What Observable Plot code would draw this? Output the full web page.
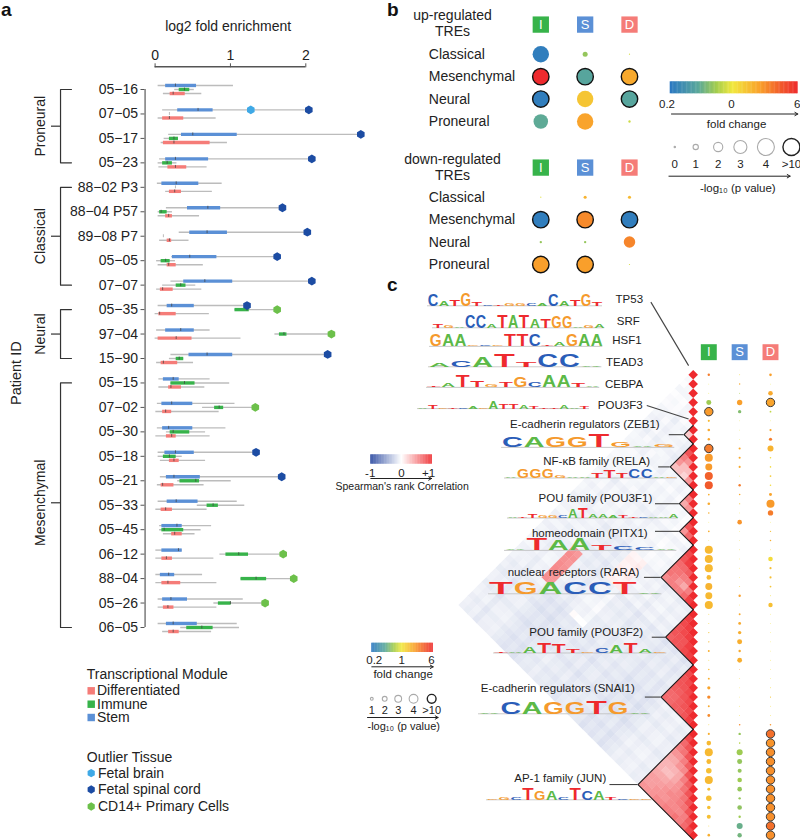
<!DOCTYPE html>
<html>
<head>
<meta charset="utf-8">
<script src="https://cdn.jsdelivr.net/npm/d3@7"></script>
<script src="https://cdn.jsdelivr.net/npm/@observablehq/plot@0.6"></script>
<style>
html,body{margin:0;padding:0;background:#fff;font-family:"Liberation Sans",Arial,sans-serif}
#root{position:relative;width:800px;height:840px;overflow:hidden}
.tag{position:absolute;font-weight:bold;font-size:19px;color:#111;line-height:1}
</style>
</head>
<body>
<div id="root"></div>
<script>
// ---------- panel a ----------
const patients = ["05−16","07−05","05−17","05−23","88−02 P3","88−04 P57","89−08 P7","05−05","07−07","05−35","97−04","15−90","05−15","07−02","05−30","05−18","05−21","05−33","05−45","06−12","88−04","05−26","06−05"];
const subtypeGroups = [
  {name:"Proneural", from:0, to:3, mid:1.5},
  {name:"Classical", from:4, to:8, mid:6},
  {name:"Neural", from:9, to:11, mid:10},
  {name:"Mesenchymal", from:12, to:22, mid:16.9}
];
// [low whisker, q1, median, q3, high whisker], log2 fold enrichment
const stemBoxes = [[.04,.14,.27,.55,1.04],[.10,.30,.57,.77,2.04],[.18,.35,.50,1.09,2.73],[.06,.14,.27,.71,2.08],[.03,.09,.28,.58,.89],[.15,.43,.70,.87,1.69],[.32,.46,.69,.96,2.02],[.22,.23,.46,.82,1.62],[.21,.38,.66,1.03,2.08],[.04,.16,.22,.52,1.22],[.02,.14,.34,.52,.73],[.21,.45,.69,1.03,2.29],[.05,.11,.24,.32,.73],[.03,.09,.22,.50,1.06],[.03,.10,.18,.50,.94],[.04,.13,.27,.52,1.34],[.07,.15,.25,.60,1.68],[.04,.16,.28,.57,1.09],[.06,.09,.29,.36,.75],[.01,.09,.31,.36,.36],[.01,.07,.18,.26,.63],[.04,.10,.21,.43,1.17],[.04,.15,.24,.56,1.09]];
const immuneBoxes = [[.26,.32,.39,.46,.52],null,[.12,.19,.25,.31,.31],[.04,.10,.16,.23,.29],null,[.04,.06,.08,.16,.23],null,[.02,.08,.14,.20,.27],[.10,.28,.34,.41,.54],[1.06,1.06,1.22,1.25,1.62],[1.59,1.65,1.71,1.75,2.34],[.19,.28,.32,.38,.38],[.21,.21,.39,.53,.99],[.63,.79,.85,.91,1.33],[.15,.20,.24,.46,.67],[.04,.11,.19,.28,.36],[.30,.33,.54,.59,1.01],[.56,.69,.77,.84,1.19],[.06,.09,.12,.38,.61],[.86,.94,1.11,1.24,1.70],[1.14,1.14,1.34,1.48,1.84],[.78,.84,1.00,1.01,1.46],[.34,.42,.62,.77,1.12]];
const diffBoxes = [[.11,.20,.24,.40,.62],[.04,.10,.19,.38,.81],[.08,.11,.25,.73,.96],[.05,.17,.27,.42,.69],[.14,.19,.26,.35,.76],[.04,.14,.18,.23,.59],[.06,.16,.19,.22,.45],[.04,.16,.18,.28,.64],[.02,.07,.10,.24,.62],[.00,.05,.06,.28,.72],[.00,.04,.28,.49,1.14],[.02,.08,.11,.30,.51],[.05,.18,.21,.35,.66],[.01,.10,.14,.22,.85],[.01,.15,.22,.28,.73],[.07,.19,.25,.32,.67],[.03,.08,.10,.25,.65],[.01,.08,.14,.23,.69],[.11,.22,.26,.36,.53],[.01,.09,.15,.23,.78],[.01,.09,.17,.34,.82],[.04,.11,.17,.25,.82],[.10,.18,.24,.32,.75]];
// rows whose immune module is only a stray median mark
const immuneStray = [[1,.19],[4,.27],[6,.11]];
const outliers = [[1,"S",1.27,"brain"],[1,"S",2.04,"spinal"],[2,"S",2.73,"spinal"],[3,"S",2.08,"spinal"],[5,"S",1.69,"spinal"],[6,"S",2.02,"spinal"],[7,"S",1.62,"spinal"],[8,"S",2.08,"spinal"],[9,"S",1.22,"spinal"],[9,"I",1.62,"cd14"],[10,"I",2.34,"cd14"],[11,"S",2.29,"spinal"],[13,"I",1.33,"cd14"],[15,"S",1.34,"spinal"],[16,"S",1.68,"spinal"],[19,"I",1.70,"cd14"],[20,"I",1.84,"cd14"],[21,"I",1.46,"cd14"]];
const moduleColor = {S:"#5b90d6", I:"#37b34a", D:"#f57c78"};
const moduleOffset = {S:-0.165, I:0, D:0.165};
const tissueColor = {brain:"#3fa9e6", spinal:"#1c4ca3", cd14:"#6cc04a"};

// ---------- panel b ----------
const subtypes = ["Classical","Mesenchymal","Neural","Proneural"];
const modules = ["I","S","D"];
const upP    = [[4,1,0],[11,11,11],[11,4,11],[3.5,4,.3]];
const upFold = [[.22,.62,.9],[6,.4,2],[.22,1.5,.4],[.43,2.1,.85]];
const downP    = [[0,.5,.5],[11,11,11],[.3,.3,2.7],[11,11,0]];
const downFold = [[.95,1.8,1.7],[.22,2.6,.22],[.62,.62,2.7],[2.2,2.2,.9]];

// ---------- panel c ----------
const pI = [.85,0,0,2.2,11,.7,.95,.85,11,3.8,3.25,3.8,3.8,.5,.95,.4,0,.5,0,3.8,3.8,3.8,2,3.25,3.25,3.8,.1,.1,.2,.3,.6,.1,.3,.6,1.25,1.35,.6,1.05,.1,.7,2,3.8,2.1,2.5,3.8,1.15,2.5,1.45,1.7,.1,.95];
const fI = [2.9,1,1,.66,2.3,1.7,2,2.1,2.9,2.3,2.3,3.6,3.8,1.9,2,1.9,1.1,1.9,1.1,1.7,1.7,1.7,1.7,1.8,1.7,1.7,1.3,1.3,1.5,1.7,1.9,1.2,1.7,1.9,2.1,2.6,2,2.6,1.3,1.9,1.7,1.7,1.7,1.6,1.7,1.6,1.6,1.6,1.6,1.3,1.9];
const pS = [.1,.3,.1,2.4,1.35,0,0,0,.7,.7,.7,0,.85,.4,.2,0,2,0,0,0,0,0,0,.1,.85,0,.6,1.05,1.35,2.2,.85,2.1,0,0,0,0,0,0,.4,.85,.4,2.75,2.2,1.7,2,2,.85,2,.85,2.75,1.9];
const fS = [1.2,2,.7,2.2,.55,1,1,1,2,2,2,1.1,2.9,2,1.5,1.1,2.4,1.2,1.2,1.2,1.2,1.2,1.2,1.4,2.2,1.2,2,2,1.9,1.9,2,1.9,2.5,1.3,1.2,1.2,1.2,1.2,2.6,.62,.75,.66,.62,.62,.66,.62,.62,.6,.66,.46,.5];
const pD = [.95,0,2,11,.5,0,.7,1.25,2.75,.4,.4,.5,.4,1.15,3.8,2.4,0,.3,.4,0,2,.7,.7,.5,.1,1.9,0,0,0,0,0,0,0,0,.1,.2,0,0,.4,11,11,11,11,11,11,11,11,11,11,11,11];
const fD = [2.2,1,2,2.1,.8,1,2,2.9,1.8,1.2,1.2,1.4,1.2,2.1,2.3,2.9,1.1,1.6,1.9,1.2,1.2,1.6,1.6,1.5,1.2,1.6,1.1,1.1,1.1,1.1,1.1,1.1,1.1,1.1,1.2,1.5,1.2,1.2,2.4,3.2,2.4,2.5,2.5,2.5,2.5,2.5,2.5,2.5,2.5,3.2,2.5];

// motif clusters: first and last row in the matrix
const clusters = [[0,0],[1,1],[2,2],[3,3],[4,4],[5,5],[6,7],[8,12],[13,15],[16,18],[19,25],[26,31],[32,38],[39,50]];
// Spearman correlation between clusters (upper triangle, by cluster)
const clusterCorr = [
 [0,-.06,-.05,-.06,-.05,-.06,-.05,-.08,-.06,-.06,-.07,-.08,-.08,-.10],
 [0,0,-.07,-.05,-.05,-.06,-.05,-.09,-.06,-.05,-.08,-.07,-.08,-.11],
 [0,0,0,-.06,-.05,-.05,-.05,-.06,-.07,-.06,-.07,-.08,-.09,-.10],
 [0,0,0,0,-.07,-.05,-.07,-.07,-.06,-.05,-.08,-.07,-.09,-.12],
 [0,0,0,0,0,-.06,-.05,-.08,-.05,-.06,-.07,-.09,-.08,-.11],
 [0,0,0,0,0,0,-.06,-.06,-.07,-.05,-.08,-.07,-.08,-.10],
 [0,0,0,0,0,0,0,-.07,-.06,-.06,-.06,-.08,.52,-.09],
 [0,0,0,0,0,0,0,0,-.05,-.06,-.07,-.10,-.09,-.14],
 [0,0,0,0,0,0,0,0,0,-.04,-.05,.07,-.06,-.11],
 [0,0,0,0,0,0,0,0,0,0,-.05,-.07,-.10,-.12],
 [0,0,0,0,0,0,0,0,0,0,0,-.08,-.11,-.12],
 [0,0,0,0,0,0,0,0,0,0,0,0,-.12,-.14],
 [0,0,0,0,0,0,0,0,0,0,0,0,0,-.09],
 [0,0,0,0,0,0,0,0,0,0,0,0,0,0]
];
// within-cluster correlations, row by row from the diagonal outwards
const withinCorr = {
 6:[[.25]],
 7:[[.8,.6,.5,.3],[.5,.3,.3],[.3,.2],[.5]],
 8:[[.6,.4],[.5]],
 9:[[.8,.5],[.7]],
 10:[[.85,.8,.7,.65,.65,.55],[.9,.7,.65,.6,.6],[.75,.6,.5,.6],[.6,.4,.6],[.6,.7],[.9]],
 11:[[.9,.85,.8,.8,.75],[.9,.85,.8,.8],[.9,.8,.8],[.9,.85],[.9]],
 12:[[.85,.8,.8,.75,.7,.7],[.85,.8,.75,.7,.7],[.85,.8,.75,.75],[.85,.8,.75],[.85,.8],[.9]],
 13:[[.85,.7,.6,.5,.4,.35,.35,.4,.45,.45,.5],[.8,.65,.5,.4,.35,.3,.4,.45,.45,.5],[.8,.6,.5,.35,.3,.4,.45,.5,.5],[.75,.55,.4,.4,.45,.5,.5,.55],[.8,.6,.5,.5,.55,.5,.55],[.75,.65,.55,.55,.55,.6],[.8,.65,.6,.55,.6],[.8,.65,.55,.65],[.8,.6,.6],[.75,.7],[.85]]
};
// rows that read slightly paler (+) or bluer (-) than their block
const rowShade = [.02,.01,.02,-.01,.02,.01,.01,-.02,.01,-.01,.01,-.02,.01,0,-.01,.02,0,.01,-.01,.02,-.02,.01,.02,-.01,.01,0,-.02,.01,-.01,.02,-.02,.01,-.02,.01,-.01,.01,.02,-.01,0,.02,-.01,.01,-.02,.01,.01,-.02,.01,.02,-.01,.01,0];
const cellOverrides = [[14,39,.0],[13,39,.02],[15,39,.0]];

const motifLabels = [
 ["TP53",10.9,-8.2],["SRF",11.6,-5.8],["HSF1",11.2,-3.7],["TEAD3",10.9,-1.4],["CEBPA",10.9,1],["POU3F3",11,3.3],
 ["E-cadherin regulators (ZEB1)",7.3,5.4],["NF-κB family (RELA)",9.4,9.4],["POU family (POU3F1)",8.9,13.4],["homeodomain (PITX1)",9.9,17.2],
 ["nuclear receptors (RARA)",11.7,21.5],["POU family (POU3F2)",10.9,28],["E-cadherin regulators (SNAI1)",12.7,34],["AP-1 family (JUN)",18.9,43.8]
];
// cluster index with its leader's far end, as lag in the matrix
const leaders = [[6,5.2],[7,7.5],[8,8.2],[9,8.2],[10,10.6],[11,8.9],[12,10.4],[13,18.1]];
const slantedLeaders = [[9.2,-7.9,1,-1],[10.1,3.34,1,4.8]];

// sequence logos: letters and information content (bits)
const logoLetters = {
 TP53:"CATGTCTGGCACATGT", SRF:"TGACCATATATGGAGA", HSF1:"GAAGCGTTCTAGAA", TEAD3:"ACATTCCA", CEBPA:"TATTGTGCAATA",
 POU3F3:"ATGTCAGATTATTTAAT", ZEB1:"CAGGTGAG", RELA:"AGGGGAATTTCCAG", POU3F1:"ATTGGCATAAATTCAAA", PITX1:"ATAATCCA",
 RARA:"TGACCTA", POU3F2:"TAATTTGCATAG", SNAI1:"ACAGGTGA", JUN:"GGCTGACTCATCGG"
};
const logoBits = {
 TP53:[1.7,.7,1,1.9,.6,.2,.15,.3,.4,.3,.3,1.8,.7,1,1.7,.6],
 SRF:[.5,.35,.15,1.9,1.9,.5,1.9,1.9,1.9,1.4,1.4,1.8,1.8,.15,.3,.5],
 HSF1:[1.9,1.9,1.9,.15,.2,.15,1.9,1.9,1.9,.3,.6,1.9,1.9,1.9],
 TEAD3:[.6,.9,1.6,1.9,.7,1.9,1.9,.15],
 CEBPA:[.15,.6,1.9,1,.3,.8,1.6,.7,1.9,1.9,.6,.2],
 POU3F3:[.3,1.1,.2,.3,.2,.7,.3,1.9,1.3,1.2,.9,.5,.2,.2,.9,.3,.5],
 ZEB1:[1.7,1.7,1.7,1.7,2,.8,.15,.4],
 RELA:[.15,1.8,1.8,1.8,.5,.3,.15,.9,1.4,.9,1.8,1.8,.15,.15],
 POU3F1:[.2,.2,.6,.5,.5,.5,1.6,1.9,.7,.6,.5,.4,.3,.15,.15,.15,.7],
 PITX1:[.15,1.9,1.8,2,.8,.6,.4,.15],
 RARA:[2,1.9,1.9,1.9,1.9,1.9,.15],
 POU3F2:[.15,.15,1.2,1.9,1.5,.6,.3,1,1.4,1.8,.7,.2],
 SNAI1:[.15,1.8,1.8,1.7,1.7,1.9,1.7,.15],
 JUN:[.15,.4,.3,1.9,1.5,1.5,.5,1.9,1.5,1.6,.3,.15,.15,.15]
};
const letterColor = {A:"#5cb947", C:"#2a5db8", G:"#f59a2d", T:"#ee2a2e"};
const letterWidth = {A:7.22, C:7.22, G:7.78, T:6.11};

// ---------- colour scales ----------
const foldDomain = [.2,.42,.68,1.05,2.17,3.8,6];
const foldRange = ["#2b78c2","#5aa89a","#a3cd4d","#f2e83d","#f9a12b","#f15a2b","#ee2a2e"];
const foldColor = {type:"log", domain:foldDomain, range:foldRange};
const corrColor = {type:"linear", domain:[-1,0,1], range:["#27469f","#ffffff","#ee2a2e"]};

// ---------- helpers ----------
const root = document.getElementById("root");
const baseStyle = {background:"transparent", fontFamily:'"Liberation Sans",Arial,sans-serif', overflow:"visible", color:"#222"};
const modIdx = m=>modules.indexOf(m);
function place(node,left,top){node.style.position="absolute";node.style.left=left+"px";node.style.top=top+"px";node.style.maxWidth="none";root.append(node);return node;}
function tag(t,left,top){const d=document.createElement("div");d.className="tag";d.textContent=t;d.style.left=left+"px";d.style.top=top+"px";root.append(d);}

// ---------- panel a drawing ----------
function boxRows(boxes,mod){
  return boxes.flatMap((b,i)=>b?[{row:i+moduleOffset[mod],mod,lo:b[0],q1:b[1],med:b[2],q3:b[3],hi:b[4]}]:[]);
}
const boxData = [...boxRows(stemBoxes,"S"),...boxRows(immuneBoxes,"I"),...boxRows(diffBoxes,"D")];
const outlierData = outliers.map(([r,m,v,t])=>({row:r+moduleOffset[m],v,t}));
const tickH = 0.06;
const bracketPts = subtypeGroups.flatMap(g=>[
  {g:g.name,x:-1.11,y:g.from},{g:g.name,x:-1.255,y:g.from},{g:g.name,x:-1.255,y:g.to},{g:g.name,x:-1.11,y:g.to}
]);
place(Plot.plot({
  width:340,height:650,marginLeft:144.5,marginTop:66.3,marginRight:0,marginBottom:0,style:baseStyle,
  x:{domain:[0,2],range:[154.6,305.3]},
  y:{domain:[0,22],range:[89,627]},
  marks:[
    Plot.axisX({anchor:"top",ticks:[0,1,2],tickFormat:"d",tickSize:4,tickPadding:3,fontSize:14,label:null,stroke:"#555",fill:"#222"}),
    Plot.axisY({anchor:"left",ticks:d3.range(23),tickFormat:i=>patients[i],tickSize:4,tickPadding:3,fontSize:14,label:null,stroke:"#555",fill:"#222"}),
    Plot.ruleY([-0.93],{x1:0,x2:2,stroke:"#555",strokeWidth:1.3}),
    Plot.ruleX([-0.133],{y1:0,y2:22,stroke:"#666",strokeWidth:1.3}),
    Plot.text(["log2 fold enrichment"],{text:d=>d,x:.97,y:-2.58,fontSize:14,fill:"#222"}),
    Plot.line(bracketPts,{x:"x",y:"y",z:"g",stroke:"#333",strokeWidth:1.2,curve:"linear"}),
    Plot.ruleY(subtypeGroups,{y:"mid",x1:-1.375,x2:-1.255,stroke:"#333",strokeWidth:1.2}),
    Plot.text(subtypeGroups,{text:"name",y:"mid",x:-1.52,rotate:-90,fontSize:14,fill:"#222"}),
    Plot.text(["Patient ID"],{text:d=>d,x:-1.84,y:11.6,rotate:-90,fontSize:14.5,fill:"#222"}),
    Plot.ruleY(boxData,{y:"row",x1:"lo",x2:"hi",stroke:"#bcbcbc",strokeWidth:1.4}),
    Plot.ruleY(boxData,{y:"row",x1:"q1",x2:"q3",stroke:d=>moduleColor[d.mod],strokeWidth:3.4}),
    Plot.ruleX(boxData,{x:"med",y1:d=>d.row-tickH,y2:d=>d.row+tickH,stroke:"#444",strokeOpacity:.75,strokeWidth:1}),
    Plot.ruleX(immuneStray,{x:d=>d[1],y1:d=>d[0]-tickH,y2:d=>d[0]+tickH,stroke:"#bbb",strokeWidth:1}),
    Plot.dot(outlierData,{x:"v",y:"row",symbol:"hexagon",r:3.8,fill:d=>tissueColor[d.t],stroke:"none"})
  ]
}),0,0);

// panel a legend
const moduleLegend = [{t:"Differentiated",k:"D",y:690.3},{t:"Immune",k:"I",y:703.7},{t:"Stem",k:"S",y:717}];
const tissueLegend = [{t:"Fetal brain",k:"brain",y:772.7},{t:"Fetal spinal cord",k:"spinal",y:789},{t:"CD14+ Primary Cells",k:"cd14",y:806}];
place(Plot.plot({
  width:260,height:190,margin:0,style:baseStyle,
  x:{domain:[60,320],range:[0,260],axis:null},y:{domain:[650,840],range:[0,190],axis:null},
  marks:[
    Plot.text([{t:"Transcriptional Module",y:674},{t:"Outlier Tissue",y:756.7}],{text:"t",x:86.3,y:"y",textAnchor:"start",fontSize:14,fill:"#222"}),
    Plot.dot(moduleLegend,{x:90.7,y:"y",symbol:"square",r:4.2,fill:d=>moduleColor[d.k]}),
    Plot.text(moduleLegend,{text:"t",x:96.5,y:"y",textAnchor:"start",fontSize:14,fill:"#222"}),
    Plot.dot(tissueLegend,{x:90.7,y:"y",symbol:"hexagon",r:3.6,fill:d=>tissueColor[d.k]}),
    Plot.text(tissueLegend,{text:"t",x:97.5,y:"y",textAnchor:"start",fontSize:14,fill:"#222"})
  ]
}),60,650);

// ---------- panel b drawing ----------
function moduleHeader(){
  return modules.map(m=>({m,k:modIdx(m)}));
}
function matrixPanel(title1,title2,y1,y2,P,F,top){
  const rows=[];
  subtypes.forEach((s,i)=>modules.forEach((m,j)=>rows.push({row:i,k:j,p:P[i][j],f:F[i][j]})));
  place(Plot.plot({
    width:240,height:145,margin:0,style:baseStyle,
    x:{domain:[0,2],range:[120.3,209],axis:null},
    y:{domain:[0,3],range:[53.7,121],axis:null},
    r:{type:"linear",domain:[0,4],range:[.6,8.2],clamp:true},
    color:foldColor,
    marks:[
      Plot.text([title1],{text:d=>d,frameAnchor:"left",textAnchor:"middle",dx:32,y:y1,fontSize:14,fill:"#222"}),
      Plot.text([title2],{text:d=>d,frameAnchor:"left",textAnchor:"middle",dx:32,y:y2,fontSize:14,fill:"#222"}),
      Plot.dot(moduleHeader(),{x:"k",y:-1.32,symbol:"square",r:9.2,fill:d=>moduleColor[d.m],stroke:"none"}),
      Plot.text(moduleHeader(),{x:"k",y:-1.32,text:"m",fill:"#fff",fontSize:13}),
      Plot.text(subtypes,{text:d=>d,y:(d,i)=>i,frameAnchor:"left",dx:8.3,textAnchor:"start",fontSize:14,fill:"#222"}),
      Plot.dot(rows,{x:"k",y:"row",r:"p",fill:"f",stroke:d=>d.p>10?"#111":"none",strokeWidth:1.4})
    ]
  }),420,top);
}
matrixPanel("up-regulated","TREs",-1.72,-1.01,upP,upFold,0);
matrixPanel("down-regulated","TREs",-1.7,-.95,downP,downFold,143);

// ---------- legends ----------
function rampLegend(o){
  const n=d3.range(0,100).map(i=>({a:i/100,b:(i+1.3)/100}));
  return place(Plot.plot({
    width:o.w,height:o.h,margin:0,style:baseStyle,
    x:{domain:[0,1],range:o.range,axis:null},y:{domain:[0,o.h],range:[0,o.h],axis:null},
    color:o.color,
    marks:[
      Plot.rect(n,{x1:"a",x2:"b",y1:o.y1,y2:o.y2,fill:d=>o.value(d.a)}),
      Plot.text(o.labels,{x:d=>d[1],y:o.labelY,text:d=>d[0],fontSize:o.fs,fill:"#222"}),
      Plot.arrow([0],{x1:o.arrow[0],x2:o.arrow[1],y1:o.arrowY,y2:o.arrowY,stroke:"#222",strokeWidth:1,headLength:5}),
      Plot.text([o.title],{text:d=>d,x:o.titleX,y:o.titleY,fontSize:o.titleFs||o.fs,fill:"#222"})
    ]
  }),o.left,o.top);
}
function sizeLegend(o){
  return place(Plot.plot({
    width:o.w,height:o.h,margin:0,style:baseStyle,
    x:{domain:[0,1],range:o.range,axis:null},y:{domain:[0,o.h],range:[0,o.h],axis:null},
    r:{type:"linear",domain:[0,4],range:o.rRange,clamp:true},
    marks:[
      Plot.dot(o.items,{x:d=>d[2],y:o.dotY,r:d=>d[1],fill:"#fff",stroke:d=>d[1]>10?"#222":"#aaa",strokeWidth:d=>d[1]>10?1.4:1.1}),
      Plot.text(o.items,{x:d=>d[2],y:o.labelY,text:d=>d[0],fontSize:o.fs,fill:"#222"}),
      Plot.arrow([0],{x1:o.arrow[0],x2:o.arrow[1],y1:o.arrowY,y2:o.arrowY,stroke:"#222",strokeWidth:1,headLength:5}),
      Plot.text(["-log₁₀ (p value)"],{text:d=>d,x:o.titleX,y:o.titleY,fontSize:o.fs,fill:"#222"})
    ]
  }),o.left,o.top);
}
const foldOfT = t=>.2*Math.pow(30,t);
rampLegend({left:660,top:70,w:140,h:62,range:[9.7,137.3],y1:11.3,y2:23.3,color:foldColor,value:foldOfT,
  labels:[["0.2",-.025],["0",.48],["6",.995]],labelY:34,arrow:[.01,1],arrowY:43.5,title:"fold change",titleX:.52,titleY:53.5,fs:11.5});
sizeLegend({left:660,top:135,w:140,h:62,range:[9.7,137.3],rRange:[.7,8.5],dotY:11.5,labelY:28.7,arrowY:40.7,titleY:53,fs:11.5,
  items:[["0",0,.036],["1",1,.2],["2",2,.376],["3",3,.55],["4",4,.75],[">10",11,.95]],arrow:[-.01,.94],titleX:.53});
rampLegend({left:360,top:445,w:90,h:50,range:[10.3,71.7],y1:9.3,y2:18.7,color:corrColor,value:t=>t*2-1,
  labels:[["-1",-.01],["0",.5],["+1",.94]],labelY:28,arrow:[0,.99],arrowY:33,title:"Spearman's rank Correlation",titleX:.51,titleY:41.5,fs:11.5,titleFs:10.5});
rampLegend({left:360,top:635,w:90,h:46,range:[11.3,72.7],y1:7.7,y2:17,color:foldColor,value:foldOfT,
  labels:[["0.2",.04],["1",.485],["6",.97]],labelY:24.5,arrow:[0,1],arrowY:31.3,title:"fold change",titleX:.51,titleY:39,fs:11.5});
sizeLegend({left:360,top:685,w:90,h:50,range:[11.3,72.7],rRange:[.4,4.4],dotY:13.3,labelY:24.7,arrowY:32,titleY:40.5,fs:11,
  items:[["1",1,0],["2",2,.21],["3",3,.43],["4",4,.68],[">10",11,.975]],arrow:[-.07,1.08],titleX:.52});

// ---------- panel c drawing ----------
const nRows = pI.length;
const clusterOf = d3.range(nRows).map(r=>clusters.findIndex(c=>r>=c[0]&&r<=c[1]));
const overrideMap = new Map(cellOverrides.map(([i,j,v])=>[i+"-"+j,v]));
const cells=[];
for(let i=0;i<nRows;i++)for(let j=i+1;j<nRows;j++){
  const ci=clusterOf[i],cj=clusterOf[j];
  let v;
  if(ci===cj) v=withinCorr[ci][i-clusters[ci][0]][j-i-1];
  else v=clusterCorr[ci][cj]+rowShade[i]+rowShade[j];
  const k=i+"-"+j; if(overrideMap.has(k)) v=overrideMap.get(k);
  cells.push({lag:j-i,pos:(i+j)/2,v});
}
const diagonal=d3.range(nRows).map(i=>({lag:0,pos:i}));
const outlinePts=clusters.filter(c=>c[1]>c[0]).flatMap(([a,b])=>[
  {c:a,lag:0,pos:a-.5},{c:a,lag:b-a+1,pos:(a+b)/2},{c:a,lag:0,pos:b+.5}
]);
const leaderRows=leaders.map(([c,far])=>{const [a,b]=clusters[c];return {pos:(a+b)/2,near:b-a+1,far};});
place(Plot.plot({
  width:300,height:560,margin:0,style:baseStyle,
  x:{domain:[0,50],range:[292.7,62.7],axis:null},
  y:{domain:[0,50],range:[94.33,554.67],axis:null},
  color:corrColor,
  marks:[
    Plot.dot(cells,{x:"lag",y:"pos",symbol:"diamond2",r:4.35,fill:"v",stroke:"none"}),
    Plot.dot(diagonal,{x:"lag",y:"pos",symbol:"diamond2",r:4.3,fill:()=>1,stroke:"none"}),
    Plot.line(outlinePts,{x:"lag",y:"pos",z:"c",stroke:"#1a1a1a",strokeWidth:1.1,curve:"linear"}),
    Plot.ruleY(leaderRows,{y:"pos",x1:"far",x2:"near",stroke:"#444",strokeWidth:1.1}),
    Plot.link(slantedLeaders,{x1:d=>d[0],y1:d=>d[1],x2:d=>d[2],y2:d=>d[3],stroke:"#444",strokeWidth:1.1}),
    Plot.text(motifLabels,{text:d=>d[0],x:d=>d[1],y:d=>d[2],textAnchor:"end",fontSize:11.5,fill:"#222"})
  ]
}),400,280);

// motif dots by module
const dotRows=d3.range(nRows).flatMap(i=>[
  {row:i,k:0,p:pI[i],f:fI[i]},{row:i,k:1,p:pS[i],f:fS[i]},{row:i,k:2,p:pD[i],f:fD[i]}
]);
place(Plot.plot({
  width:100,height:500,margin:0,style:baseStyle,
  x:{domain:[0,2],range:[8.3,70],axis:null},
  y:{domain:[0,50],range:[34.33,494.67],axis:null},
  r:{type:"linear",domain:[0,4],range:[.4,4.2],clamp:true},
  color:foldColor,
  marks:[
    Plot.dot(moduleHeader(),{x:"k",y:-2.46,symbol:"square",r:9,fill:d=>moduleColor[d.m],stroke:"none"}),
    Plot.text(moduleHeader(),{x:"k",y:-2.46,text:"m",fill:"#fff",fontSize:13}),
    Plot.dot(dotRows,{x:"k",y:"row",r:"p",fill:"f",stroke:d=>d.p>10?"#3a3a3a":"none",strokeWidth:1})
  ]
}),700,340);

// ---------- sequence logos ----------
function drawLogo(name,left,baseline,w,h){
  const letters=[...logoLetters[name]],bits=logoBits[name],n=letters.length,cell=w/n;
  const rows=letters.map((l,i)=>({l,i:i+.5,b:bits[i]}));
  const plot=Plot.plot({
    width:w,height:h,margin:0,style:baseStyle,
    x:{domain:[0,n],range:[0,w],axis:null},y:{domain:[0,2],range:[h,0],axis:null},
    marks:[
      Plot.ruleY([0],{stroke:"#bbb",strokeWidth:.8}),
      Plot.text(rows,{x:"i",y:0,text:"l",fontSize:10,fontWeight:"bold",lineAnchor:"bottom",fill:d=>letterColor[d.l]})
    ]
  });
  plot.querySelectorAll('g[aria-label="text"] text').forEach((el,k)=>{
    const d=rows[k];
    const sy=(d.b/2*h)/7.2, sx=cell*.96/letterWidth[d.l];
    el.setAttribute("transform",(el.getAttribute("transform")||"")+` scale(${sx},${sy})`);
  });
  place(plot,left,baseline-h);
}
drawLogo("TP53",426.7,305,175,13.3);
drawLogo("SRF",431.7,327.7,172.3,13.3);
drawLogo("HSF1",429.3,345.7,173.4,11.9);
drawLogo("TEAD3",428.3,366.7,173.4,13.3);
drawLogo("CEBPA",426,387.3,173.3,12.9);
drawLogo("POU3F3",417.3,407.7,172,8.1);
drawLogo("ZEB1",500.7,447.3,173.3,12.9);
drawLogo("RELA",504.3,477.7,173,10.5);
drawLogo("POU3F1",507.3,517.7,171,11.5);
drawLogo("PITX1",504.3,549.7,172.4,11.9);
drawLogo("RARA",488.3,593.3,173.4,12.3);
drawLogo("POU3F2",493.3,652,173.4,11.5);
drawLogo("SNAI1",478.3,713.7,171.7,13.3);
drawLogo("JUN",486,799,165.7,12.3);

tag("a",1,0);
tag("b",387,0);
tag("c",387,275);
</script>
</body>
</html>
